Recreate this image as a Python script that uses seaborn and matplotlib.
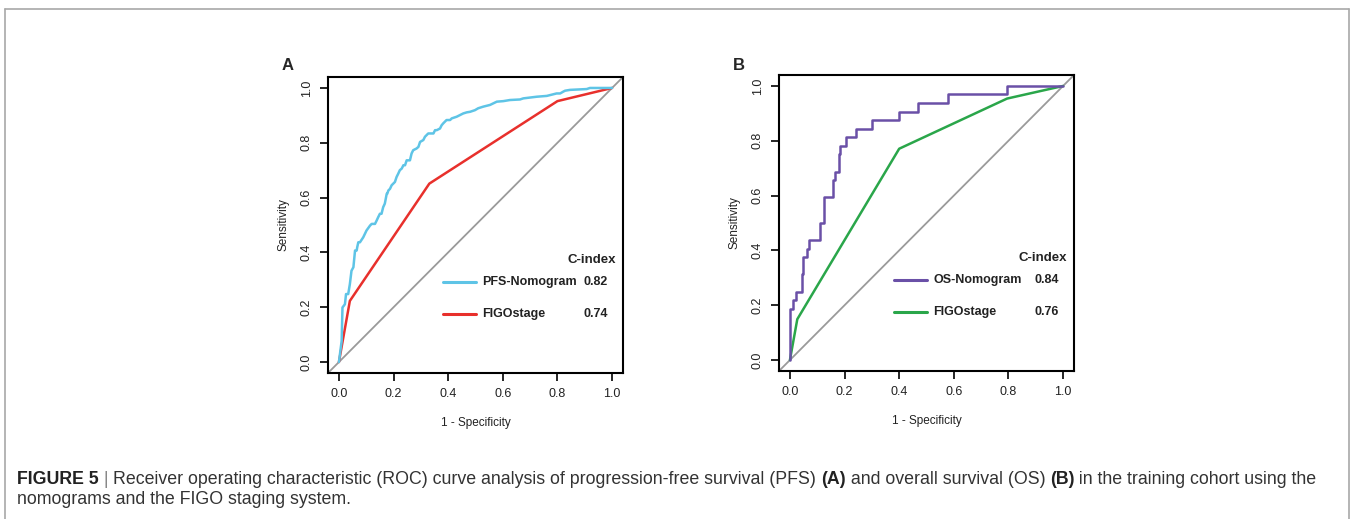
import numpy as np
import pandas as pd
import matplotlib
matplotlib.use("Agg")
import matplotlib.pyplot as plt
from matplotlib.lines import Line2D
import seaborn as sns

# ---- data ----
pfs_fpr = [0, 0.010, 0.013, 0.022, 0.026, 0.034, 0.040, 0.046, 0.053, 0.059, 0.065, 0.067, 0.071, 0.077,
           0.089, 0.101, 0.114, 0.120, 0.132, 0.138, 0.144, 0.150, 0.156, 0.162, 0.168, 0.175, 0.177, 0.181,
           0.187, 0.193, 0.199, 0.205, 0.211, 0.217, 0.223, 0.230, 0.236, 0.242, 0.248, 0.260, 0.266, 0.272,
           0.284, 0.291, 0.297, 0.309, 0.315, 0.321, 0.327, 0.333, 0.346, 0.352, 0.358, 0.370, 0.376, 0.382,
           0.388, 0.394, 0.407, 0.413, 0.431, 0.443, 0.455, 0.468, 0.480, 0.498, 0.510, 0.529, 0.553, 0.578,
           0.602, 0.626, 0.663, 0.675, 0.724, 0.761, 0.797, 0.810, 0.822, 0.828, 0.846, 0.907, 0.919, 1.0]
pfs_tpr = [0, 0.077, 0.199, 0.211, 0.248, 0.248, 0.284, 0.333, 0.346, 0.407, 0.407, 0.419, 0.437, 0.437,
           0.455, 0.480, 0.498, 0.504, 0.504, 0.516, 0.529, 0.541, 0.541, 0.565, 0.578, 0.614, 0.614, 0.626,
           0.632, 0.645, 0.651, 0.657, 0.675, 0.687, 0.700, 0.706, 0.718, 0.718, 0.736, 0.736, 0.761, 0.773,
           0.779, 0.785, 0.803, 0.810, 0.822, 0.828, 0.834, 0.834, 0.834, 0.846, 0.846, 0.852, 0.864, 0.871,
           0.877, 0.883, 0.883, 0.889, 0.895, 0.901, 0.907, 0.911, 0.913, 0.919, 0.926, 0.932, 0.938, 0.950,
           0.952, 0.956, 0.958, 0.962, 0.968, 0.971, 0.980, 0.980, 0.987, 0.990, 0.993, 0.996, 1.0, 1.0]
figo_a_fpr = [0, 0.040, 0.331, 0.800, 1.0]
figo_a_tpr = [0, 0.223, 0.651, 0.952, 1.0]

os_fpr = [0, 0, 0.010, 0.024, 0.043, 0.049, 0.061, 0.070, 0.110, 0.126, 0.156, 0.165, 0.179, 0.185,
          0.207, 0.241, 0.299, 0.400, 0.469, 0.579, 0.795, 1.0]
os_tpr = [0, 0.1875, 0.219, 0.25, 0.3125, 0.375, 0.406, 0.4375, 0.5, 0.594, 0.656, 0.6875, 0.75, 0.781,
          0.8125, 0.844, 0.875, 0.906, 0.9375, 0.969, 1.0, 1.0]
figo_b_fpr = [0, 0.027, 0.400, 0.795, 1.0]
figo_b_tpr = [0, 0.149, 0.771, 0.954, 1.0]

ticks = [0.0, 0.2, 0.4, 0.6, 0.8, 1.0]
tick_labels = ["0.0", "0.2", "0.4", "0.6", "0.8", "1.0"]

panels = [
    dict(letter="A", nomo="PFS-Nomogram", nomo_c="0.82", figo_c="0.74",
         nomo_x=pfs_fpr, nomo_y=pfs_tpr, figo_x=figo_a_fpr, figo_y=figo_a_tpr,
         nomo_col="#5ec4e6", figo_col="#e8302c", steps=False),
    dict(letter="B", nomo="OS-Nomogram", nomo_c="0.84", figo_c="0.76",
         nomo_x=os_fpr, nomo_y=os_tpr, figo_x=figo_b_fpr, figo_y=figo_b_tpr,
         nomo_col="#6a50a7", figo_col="#2aa64a", steps=True),
]

sns.set_style("white")
plt.rcParams['font.family'] = ['Liberation Sans', 'DejaVu Sans']

W, H = 1353, 519
fig = plt.figure(figsize=(W / 100, H / 100), dpi=100)

# outer frame (open at the bottom)
frame_col = "#a8a8a8"
fig.add_artist(Line2D([4.5 / W, 4.5 / W], [0, 1 - 9 / H], color=frame_col, lw=1.2))
fig.add_artist(Line2D([1348.5 / W, 1348.5 / W], [0, 1 - 9 / H], color=frame_col, lw=1.2))
fig.add_artist(Line2D([4.5 / W, 1348.5 / W], [1 - 9 / H, 1 - 9 / H], color=frame_col, lw=1.2))

axes_px = [(328, 77), (779, 75)]
for (x0, y0), p in zip(axes_px, panels):
    ax = fig.add_axes([x0 / W, 1 - (y0 + 296) / H, 295 / W, 296 / H])
    ax.plot([-0.1, 1.1], [-0.1, 1.1], color="#9a9a9a", lw=1.3, zorder=1)
    dfn = pd.DataFrame({"fpr": p["nomo_x"], "tpr": p["nomo_y"]})
    dff = pd.DataFrame({"fpr": p["figo_x"], "tpr": p["figo_y"]})
    kw = dict(drawstyle="steps-post") if p["steps"] else {}
    sns.lineplot(data=dff, x="fpr", y="tpr", sort=False, estimator=None, color=p["figo_col"],
                 lw=1.8, ax=ax, zorder=2)
    sns.lineplot(data=dfn, x="fpr", y="tpr", sort=False, estimator=None, color=p["nomo_col"],
                 lw=1.8, ax=ax, zorder=3, **kw)
    ax.set_xlim(-0.04, 1.04)
    ax.set_ylim(-0.04, 1.04)
    ax.set_xticks(ticks)
    ax.set_xticklabels(tick_labels)
    ax.set_yticks(ticks)
    ax.set_yticklabels(tick_labels, rotation=90, va="center")
    ax.tick_params(direction="out", length=6, width=1.2, color="black", labelsize=9, pad=5,
                   bottom=True, left=True, labelcolor="#222222")
    for s in ax.spines.values():
        s.set_color("black")
        s.set_linewidth(1.5)
    ax.set_xlabel("1 - Specificity", fontsize=8.5, labelpad=12, color="#222222")
    ax.set_ylabel("Sensitivity", fontsize=8.5, labelpad=8, color="#222222")

    # legend in R style
    ax.text(1.015, 0.374, "C-index", ha="right", va="center", fontsize=9.5, fontweight="bold", color="#222222")
    for yy, name, cval, col in [(0.293, p["nomo"], p["nomo_c"], p["nomo_col"]),
                                (0.176, "FIGOstage", p["figo_c"], p["figo_col"])]:
        ax.plot([0.38, 0.50], [yy, yy], color=col, lw=2.2)
        ax.text(0.526, yy, name, ha="left", va="center", fontsize=9, fontweight="bold", color="#222222")
        ax.text(0.894, yy, cval, ha="left", va="center", fontsize=9, fontweight="bold", color="#222222")

    fig.text((x0 - 46) / W, 1 - 65 / H, p["letter"], fontsize=12, fontweight="bold", ha="left", va="center")

# caption with mixed bold runs
renderer = fig.canvas.get_renderer()
cap_col = "#333333"
cap_size = 12.75


def draw_runs(runs, x_px, y_px):
    x = x_px
    for txt, weight, col in runs:
        t = fig.text(x / W, 1 - y_px / H, txt, fontsize=cap_size, fontweight=weight, color=col,
                     ha="left", va="center")
        bb = t.get_window_extent(renderer=renderer)
        x += bb.width


line1 = [("FIGURE 5", "bold", "#222222"), (" | ", "normal", "#888888"),
         ("Receiver operating characteristic (ROC) curve analysis of progression-free survival (PFS) ", "normal", cap_col),
         ("(A)", "bold", "#222222"), (" and overall survival (OS) ", "normal", cap_col),
         ("(B)", "bold", "#222222"), (" in the training cohort using the", "normal", cap_col)]
line2 = [("nomograms and the FIGO staging system.", "normal", cap_col)]
draw_runs(line1, 17, 479)
draw_runs(line2, 17, 500)

fig.savefig("out.png", dpi=100)
